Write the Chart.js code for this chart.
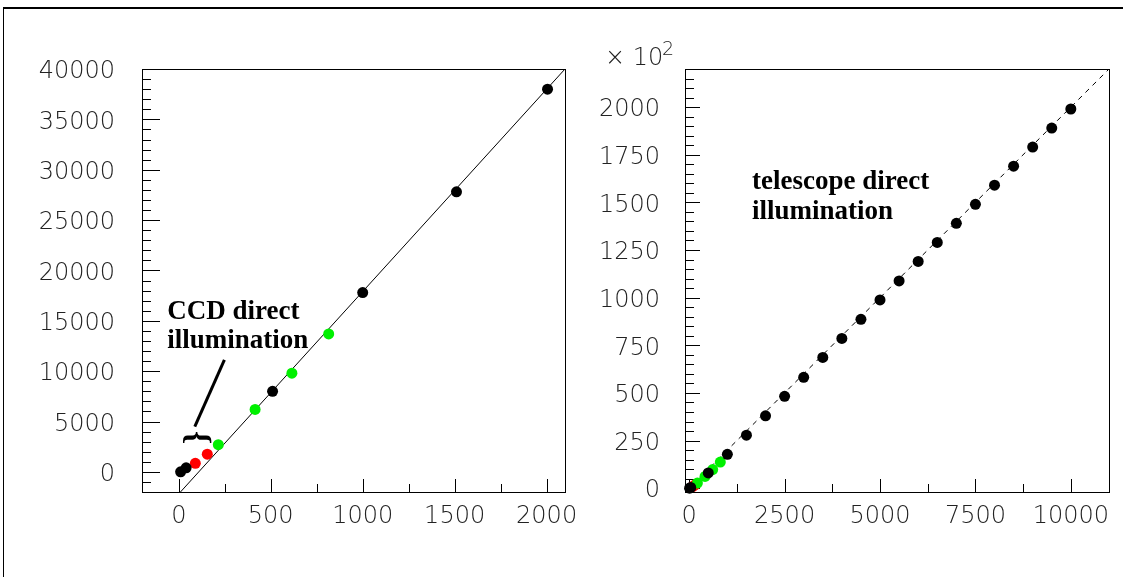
<!DOCTYPE html>
<html><head><meta charset="utf-8">
<script src="https://cdn.jsdelivr.net/npm/chart.js@4.4.0/dist/chart.umd.min.js"></script>
<style>
html,body{margin:0;padding:0;background:#fff;}
#wrap{position:relative;width:1123px;height:577px;overflow:hidden;background:#fff;}
#frame{position:absolute;left:3px;top:7px;width:1130px;height:580px;border-top:2px solid #000;border-left:1px solid #000;}
#c1{position:absolute;left:0;top:0;width:575px;height:577px;}
#c2{position:absolute;left:575px;top:0;width:548px;height:577px;}
</style></head><body>
<div id="wrap"><div id="frame"></div>
<canvas id="c1" width="575" height="577"></canvas>
<canvas id="c2" width="548" height="577"></canvas></div>
<script>
// ---------- Left panel data ----------
const leftBlackX = [10, 40, 510, 1000, 1510, 2005];
const leftBlackY = [0, 400, 8000, 17800, 27800, 38000];
const leftRedX = [90, 155];
const leftRedY = [850, 1750];
const leftGreenX = [215, 415, 615, 815];
const leftGreenY = [2700, 6200, 9800, 13700];
const leftFitX = [9, 2100];
const leftFitY = [-2000, 40000];
const leftXTicks = [0, 500, 1000, 1500, 2000];
const leftYTicks = [0, 5000, 10000, 15000, 20000, 25000, 30000, 35000, 40000];

// ---------- Right panel data (y in units of 10^2) ----------
const rightBlackX = [10, 40, 500, 1000, 1500, 2000, 2500, 3000, 3500, 4000, 4500, 5000, 5500, 6000, 6500, 7000, 7500, 8000, 8500, 9000, 9500, 10000];
const rightBlackY = [0, 4, 80, 178, 278, 380, 482, 582, 686, 786, 886, 988, 1088, 1190, 1290, 1390, 1490, 1590, 1690, 1790, 1890, 1990];
const rightRedX = [90, 155];
const rightRedY = [8.5, 17.5];
const rightGreenX = [215, 415, 615, 815];
const rightGreenY = [27, 62, 98, 137];
const rightFitX = [0, 11000];
const rightFitY = [0, 2200];
const rightXTicks = [0, 2500, 5000, 7500, 10000];
const rightYTicks = [0, 250, 500, 750, 1000, 1250, 1500, 1750, 2000];

const pts = (xs, ys) => xs.map((x, i) => ({x, y: ys[i]}));
const TICK_FONT = {family: "'DejaVu Sans'", size: 24, weight: '200'};
const TICK_COLOR = '#222';
const GREEN = '#00f000', RED = '#ff0000', BLACK = '#000000';

function decor(o) {
  return {
    id: 'decor',
    beforeDatasetsDraw(chart) {
      const {ctx, chartArea: a, scales: {x, y}} = chart;
      ctx.save();
      ctx.strokeStyle = '#000';
      ctx.lineWidth = 1;
      ctx.beginPath();
      const tx = (v, len) => { const p = Math.round(x.getPixelForValue(v)) + 0.5; ctx.moveTo(p, a.bottom); ctx.lineTo(p, a.bottom - len); };
      const ty = (v, len) => { const p = Math.round(y.getPixelForValue(v)) + 0.5; ctx.moveTo(a.left, p); ctx.lineTo(a.left + len, p); };
      o.xMajor.forEach(v => tx(v, o.xMajLen));
      for (let v = Math.ceil(x.min / o.xStep) * o.xStep; v <= x.max; v += o.xStep) if (!o.xMajor.includes(v)) tx(v, o.xMinLen);
      o.yMajor.forEach(v => ty(v, o.yMajLen));
      for (let v = Math.ceil(y.min / o.yStep) * o.yStep; v <= y.max; v += o.yStep) if (!o.yMajor.includes(v)) ty(v, o.yMinLen);
      ctx.stroke();
      ctx.strokeRect(Math.round(a.left) + 0.5, Math.round(a.top) + 0.5, Math.round(a.right - a.left), Math.round(a.bottom - a.top));
      ctx.restore();
    },
    afterDraw(chart) { o.extra && o.extra(chart); }
  };
}

function zeroPad(s) { s.paddingLeft = 0; s.paddingRight = 0; s.paddingTop = 0; s.paddingBottom = 0; }

function makeScales(xmin, xmax, ymin, ymax, xt, yt, yw, xh, ypad) {
  const common = {type: 'linear', grid: {display: false, drawTicks: false}, border: {display: false}};
  return {
    x: Object.assign({}, common, {min: xmin, max: xmax,
      afterBuildTicks: s => { s.ticks = xt.map(v => ({value: v})); },
      afterFit: s => { s.height = xh; zeroPad(s); },
      ticks: {font: TICK_FONT, color: TICK_COLOR, padding: 10, maxRotation: 0, autoSkip: false, callback: v => String(v)}}),
    y: Object.assign({}, common, {min: ymin, max: ymax,
      afterBuildTicks: s => { s.ticks = yt.map(v => ({value: v})); },
      afterFit: s => { s.width = yw; zeroPad(s); },
      ticks: {font: TICK_FONT, color: TICK_COLOR, padding: ypad, labelOffset: 3, autoSkip: false, callback: v => String(v)}})
  };
}

function dotSet(data, color) {
  return {type: 'scatter', data, backgroundColor: color, borderWidth: 0, pointRadius: 5.5, pointHoverRadius: 5.5, clip: false};
}

// ---------- Left chart ----------
new Chart(document.getElementById('c1'), {
  type: 'scatter',
  data: {datasets: [
    dotSet(pts(leftBlackX, leftBlackY), BLACK),
    dotSet(pts(leftRedX, leftRedY), RED),
    dotSet(pts(leftGreenX, leftGreenY), GREEN),
    {type: 'line', data: pts(leftFitX, leftFitY), borderColor: '#000', borderWidth: 1, pointRadius: 0, fill: false, showLine: true}
  ]},
  options: {
    responsive: false, animation: false, devicePixelRatio: 1,
    layout: {padding: {left: 0, top: 69, right: 10, bottom: 0}},
    plugins: {legend: {display: false}, tooltip: {enabled: false}},
    scales: makeScales(-200, 2100, -2000, 40000, leftXTicks, leftYTicks, 142, 85, 27)
  },
  plugins: [decor({xMajor: leftXTicks, xStep: 250, xMajLen: 13, xMinLen: 8,
                   yMajor: leftYTicks, yStep: 1000, yMajLen: 18, yMinLen: 9,
    extra(chart) {
      const {ctx, scales: {x, y}} = chart;
      ctx.save();
      ctx.fillStyle = '#000';
      ctx.font = "bold 27px 'Liberation Serif'";
      ctx.textBaseline = 'alphabetic';
      ctx.textAlign = 'left';
      ctx.fillText('CCD direct', x.getPixelForValue(-63), y.getPixelForValue(15150));
      ctx.fillText('illumination', x.getPixelForValue(-63), y.getPixelForValue(12300));
      ctx.strokeStyle = '#000';
      ctx.lineWidth = 3;
      ctx.beginPath();
      ctx.moveTo(x.getPixelForValue(87), y.getPixelForValue(4490));
      ctx.lineTo(x.getPixelForValue(248), y.getPixelForValue(11120));
      ctx.stroke();
      ctx.translate(x.getPixelForValue(104), y.getPixelForValue(3415));
      ctx.rotate(-Math.PI / 2);
      ctx.font = "bold 34px 'Liberation Serif'";
      ctx.textAlign = 'center';
      ctx.textBaseline = 'middle';
      ctx.fillText('}', 0, 0);
      ctx.restore();
    }})]
});

// ---------- Right chart ----------
new Chart(document.getElementById('c2'), {
  type: 'scatter',
  data: {datasets: [
    dotSet(pts(rightBlackX, rightBlackY), BLACK),
    dotSet(pts(rightGreenX, rightGreenY), GREEN),
    dotSet(pts(rightRedX, rightRedY), RED),
    {type: 'line', data: pts(rightFitX, rightFitY), borderColor: '#000', borderWidth: 1, borderDash: [5, 5], pointRadius: 0, fill: false, showLine: true}
  ]},
  options: {
    responsive: false, animation: false, devicePixelRatio: 1,
    layout: {padding: {left: 0, top: 69, right: 14, bottom: 0}},
    plugins: {legend: {display: false}, tooltip: {enabled: false}},
    scales: makeScales(-110, 11000, -20, 2200, rightXTicks, rightYTicks, 110, 85, 25)
  },
  plugins: [decor({xMajor: rightXTicks, xStep: 1250, xMajLen: 13, xMinLen: 8,
                   yMajor: rightYTicks, yStep: 50, yMajLen: 15, yMinLen: 9,
    extra(chart) {
      const {ctx, chartArea: a, scales: {x, y}} = chart;
      ctx.save();
      ctx.fillStyle = '#000';
      ctx.font = "bold 27px 'Liberation Serif'";
      ctx.textAlign = 'left';
      ctx.textBaseline = 'alphabetic';
      ctx.fillText('telescope direct', x.getPixelForValue(1646), y.getPixelForValue(1570));
      ctx.fillText('illumination', x.getPixelForValue(1646), y.getPixelForValue(1413));
      ctx.fillStyle = TICK_COLOR;
      ctx.font = "200 24px 'DejaVu Sans'";
      ctx.fillText('× 10', a.left - 80, 65);
      ctx.font = "200 19px 'DejaVu Sans'";
      ctx.fillText('2', a.left - 23, 55);
      ctx.restore();
    }})]
});
</script>
</body></html>
